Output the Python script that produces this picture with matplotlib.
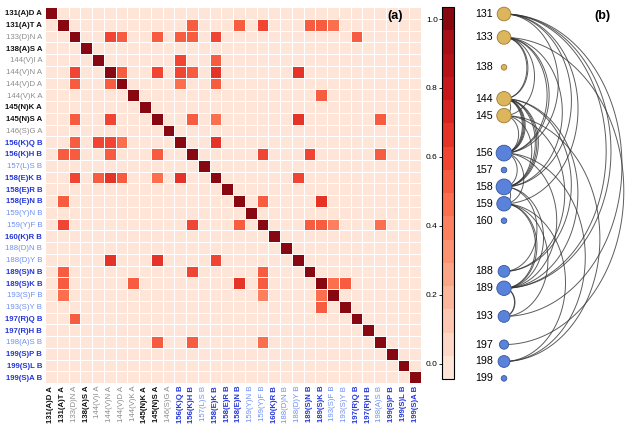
import numpy as np
import matplotlib.pyplot as plt
from matplotlib.colors import ListedColormap, Normalize
from matplotlib.patches import Circle

plt.rcParams['font.family'] = ['Liberation Sans', 'DejaVu Sans']

# mutation labels (rows / columns of the heatmap)
labels = ["131(A)D A", "131(A)T A", "133(D)N A", "138(A)S A", "144(V)I A",
          "144(V)N A", "144(V)D A", "144(V)K A", "145(N)K A", "145(N)S A",
          "146(S)G A", "156(K)Q B", "156(K)H B", "157(L)S B", "158(E)K B",
          "158(E)R B", "158(E)N B", "159(Y)N B", "159(Y)F B", "160(K)R B",
          "188(D)N B", "188(D)Y B", "189(S)N B", "189(S)K B", "193(S)F B",
          "193(S)Y B", "197(R)Q B", "197(R)H B", "198(A)S B", "199(S)P B",
          "199(S)L B", "199(S)A B"]
# 1 = bold/dark label, 0 = faded label
strong = [1, 1, 0, 1, 0, 0, 0, 0, 1, 1, 0,
          1, 1, 0, 1, 1, 1, 0, 0, 1, 0, 0, 1, 1, 0, 0, 1, 1, 0, 1, 1, 1]

# off-diagonal correlations (upper triangle, symmetric)
pair_a = [1, 1, 1, 1, 1, 1, 2, 2, 2, 2, 2, 2, 2, 4, 4, 5, 5, 5, 5, 5, 5,
          6, 6, 7, 9, 9, 9, 9, 11, 12, 12, 12, 14, 16, 16, 18, 18, 18, 18,
          23, 23]
pair_b = [12, 16, 18, 22, 23, 24, 5, 6, 9, 11, 12, 14, 26, 11, 14, 6, 9, 11,
          12, 14, 21, 11, 14, 23, 12, 14, 21, 28, 14, 18, 22, 28, 21, 18, 23,
          22, 23, 24, 28, 24, 25]
pair_r = [0.55, 0.5, 0.62, 0.5, 0.5, 0.45, 0.62, 0.5, 0.55, 0.55, 0.5, 0.62,
          0.5, 0.6, 0.55, 0.55, 0.62, 0.58, 0.5, 0.66, 0.65, 0.45, 0.55, 0.5,
          0.5, 0.48, 0.65, 0.55, 0.65, 0.6, 0.58, 0.55, 0.6, 0.5, 0.65,
          0.55, 0.55, 0.4, 0.48, 0.45, 0.5]

# residues shown in the arc diagram
residues = [131, 133, 138, 144, 145, 156, 157, 158, 159, 160,
            188, 189, 193, 197, 198, 199]

n = len(labels)
M = np.eye(n)
for a, b, r in zip(pair_a, pair_b, pair_r):
    M[a, b] = r
    M[b, a] = r

fig = plt.figure(figsize=(6.29, 4.29), dpi=100)

# (a) heatmap
ax = fig.add_axes([45/629, 46/429, 376/629, 376/429])
cmap = ListedColormap(plt.get_cmap('Reds')(np.linspace(0.1, 0.93, 16)))
norm = Normalize(-0.045, 1.035)
mesh = ax.pcolormesh(M, cmap=cmap, norm=norm, edgecolors='white', linewidth=0.6)
ax.set_xlim(0, n)
ax.set_ylim(n, 0)
ax.set_xticks(np.arange(n) + 0.5)
ax.set_yticks(np.arange(n) + 0.5)
ax.set_xticklabels(labels, rotation=90, fontsize=5.6)
ax.set_yticklabels(labels, fontsize=5.6)
for ticks in (ax.get_xticklabels(), ax.get_yticklabels()):
    for lab, s in zip(ticks, strong):
        chain_b = lab.get_text().endswith('B')
        if chain_b:
            lab.set_color('#2436d8' if s else '#6d8ef0')
        else:
            lab.set_color('#111111' if s else '#8c8c8c')
        lab.set_fontweight('bold' if s else 'normal')
ax.tick_params(length=0, pad=2)
for sp in ax.spines.values():
    sp.set_visible(False)
ax.text(29.8, 0.75, '(a)', ha='center', va='center', fontsize=9, fontweight='bold')

# colorbar
cax = fig.add_axes([442/629, 50/429, 12/629, 372/429])
cb = fig.colorbar(mesh, cax=cax, ticks=[0, 0.2, 0.4, 0.6, 0.8, 1.0])
cax.yaxis.set_ticks_position('left')
cb.ax.set_yticklabels(['0.0', '0.2', '0.4', '0.6', '0.8', '1.0'])
cb.ax.tick_params(labelsize=6, length=2, width=0.6, pad=1)
cb.outline.set_linewidth(0.8)

# (b) arc diagram, drawn in pixel units
axb = fig.add_axes([456/629, 0, 173/629, 1])
axb.set_xlim(456, 629)
axb.set_ylim(429, 0)
axb.axis('off')

x0 = 504
ypos = [14.0]
for prev, cur in zip(residues[:-1], residues[1:]):
    ypos.append(ypos[-1] + 16.9 + 6.5 * np.sqrt(cur - prev - 1))
ymap = dict(zip(residues, ypos))

neigh = {r: set() for r in residues}
seen = {}
t = np.linspace(0, np.pi, 120)
for a, b in zip(pair_a, pair_b):
    ra, rb = int(labels[a][:3]), int(labels[b][:3])
    if ra == rb or ra not in ymap or rb not in ymap:
        continue
    neigh[ra].add(rb)
    neigh[rb].add(ra)
    key = (ra, rb)
    k = 0.78 - 0.035 * seen.get(key, 0)
    seen[key] = seen.get(key, 0) + 1
    y1, y2 = ymap[ra], ymap[rb]
    h = abs(y2 - y1) / 2
    mid = (y1 + y2) / 2
    axb.plot(x0 + k * h * np.sin(t), mid - h * np.cos(t),
             color='#333333', lw=0.7, alpha=0.8, zorder=1)

for res in residues:
    deg = len(neigh[res])
    rad = 2.8 + 1.8 * np.sqrt(deg)
    if res < 150:
        fc, ec = '#ddb55c', '#9a7b34'
    else:
        fc, ec = '#5b82da', '#35559f'
    axb.add_patch(Circle((x0, ymap[res]), rad, facecolor=fc, edgecolor=ec,
                         linewidth=0.6, zorder=3))
    axb.text(493, ymap[res], str(res), ha='right', va='center', fontsize=7.7)

axb.text(602, 16, '(b)', ha='center', va='center', fontsize=9, fontweight='bold')

fig.savefig('out.png', dpi=100)
